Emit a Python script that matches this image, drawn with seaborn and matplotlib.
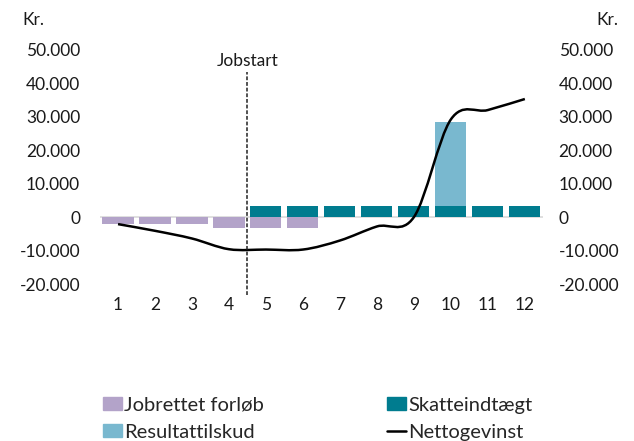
import numpy as np
import pandas as pd
import matplotlib
matplotlib.use("Agg")
import matplotlib.pyplot as plt
from matplotlib.path import Path
from matplotlib.patches import PathPatch, Patch
from matplotlib.lines import Line2D
import seaborn as sns

quarters = [str(i) for i in range(1, 13)]
jobrettet = [-2000, -2000, -2000, -3300, -3300, -3300, 0, 0, 0, 0, 0, 0]
skat = [0, 0, 0, 0, 3300, 3300, 3300, 3300, 3300, 3300, 3300, 3300]
resultat = [0, 0, 0, 0, 0, 0, 0, 0, 0, 25000, 0, 0]
netto = [-2100, -4100, -6400, -9600, -9700, -9700, -7000, -2800, 0, 29200, 32000, 35300]
yticks = [-20000, -10000, 0, 10000, 20000, 30000, 40000, 50000]

c_job = "#B3A3C9"
c_skat = "#007C8F"
c_res = "#79B8CF"

sns.set_style("white")
plt.rcParams["font.family"] = ["Lato", "DejaVu Sans"]

fig = plt.figure(figsize=(6.34, 4.41), dpi=100)
ax = fig.add_axes([0.157, 0.356, 0.70, 0.531])

df = pd.DataFrame({"q": quarters, "job": jobrettet, "skat": skat,
                   "tot": np.array(skat) + np.array(resultat)})

ax.axhline(0, color="#D9D9D9", lw=1.2, zorder=0)
for col, c in [("tot", c_res), ("skat", c_skat), ("job", c_job)]:
    sns.barplot(data=df, x="q", y=col, order=quarters, color=c, width=0.84,
                saturation=1, ax=ax, zorder=3 if col != "tot" else 2,
                linewidth=0, edgecolor="none")

# smoothed line (Excel style Catmull-Rom bezier through the data points)
xs = np.arange(len(netto), dtype=float)
ys = np.array(netto, dtype=float)
P = np.column_stack([xs, ys])
verts = [tuple(P[0])]
codes = [Path.MOVETO]
n = len(P)
for i in range(n - 1):
    p0 = P[i - 1] if i > 0 else P[i]
    p1 = P[i]
    p2 = P[i + 1]
    p3 = P[i + 2] if i + 2 < n else P[i + 1]
    c1 = p1 + (p2 - p0) / 6.0
    c2 = p2 - (p3 - p1) / 6.0
    verts += [tuple(c1), tuple(c2), tuple(p2)]
    codes += [Path.CURVE4] * 3
ax.add_patch(PathPatch(Path(verts, codes), facecolor="none", edgecolor="black",
                       lw=1.8, zorder=5))

ax.set_xlim(-0.5, 11.5)
ax.set_ylim(-20000, 50000)
ax.set_yticks(yticks)
fmt = lambda v: f"{v:,}".replace(",", ".")
ax.set_yticklabels([fmt(v) for v in yticks], fontsize=12.5, color="#1a1a1a")
ax.tick_params(axis="both", length=0, pad=14)
ax.tick_params(axis="x", labelsize=12.5, pad=9, colors="#1a1a1a")
ax.set_xlabel("")
ax.set_ylabel("")
for s in ax.spines.values():
    s.set_visible(False)

ax2 = ax.twinx()
ax2.set_ylim(ax.get_ylim())
ax2.set_yticks(yticks)
ax2.set_yticklabels([fmt(v) for v in yticks], fontsize=12.5, color="#1a1a1a")
ax2.tick_params(axis="y", length=0, pad=11)
for s in ax2.spines.values():
    s.set_visible(False)

# jobstart dashed line
ax.axvline(3.5, ymin=-0.047, ymax=0.906, color="#222222", lw=1.1,
           ls=(0, (2.5, 1.2)), clip_on=False, zorder=6)
ax.text(3.5, 46800, "Jobstart", ha="center", va="center", fontsize=12.5,
        color="#1a1a1a")

fig.text(0.035, 0.955, "Kr.", fontsize=12.5, ha="left", va="center", color="#1a1a1a")
fig.text(0.975, 0.955, "Kr.", fontsize=12.5, ha="right", va="center", color="#1a1a1a")

handles = [Patch(color=c_job, label="Jobrettet forløb"),
           Patch(color=c_res, label="Resultattilskud"),
           Patch(color=c_skat, label="Skatteindtægt"),
           Line2D([], [], color="black", lw=1.8, label="Nettogevinst")]
fig.legend(handles=handles, ncol=2, loc="upper left", bbox_to_anchor=(0.163, 0.100),
           frameon=False, fontsize=14.5, handlelength=0.95, handleheight=0.6,
           handletextpad=0.1, columnspacing=6.1, labelspacing=0.5,
           borderaxespad=0, borderpad=0)

fig.savefig("out.png", dpi=100)
